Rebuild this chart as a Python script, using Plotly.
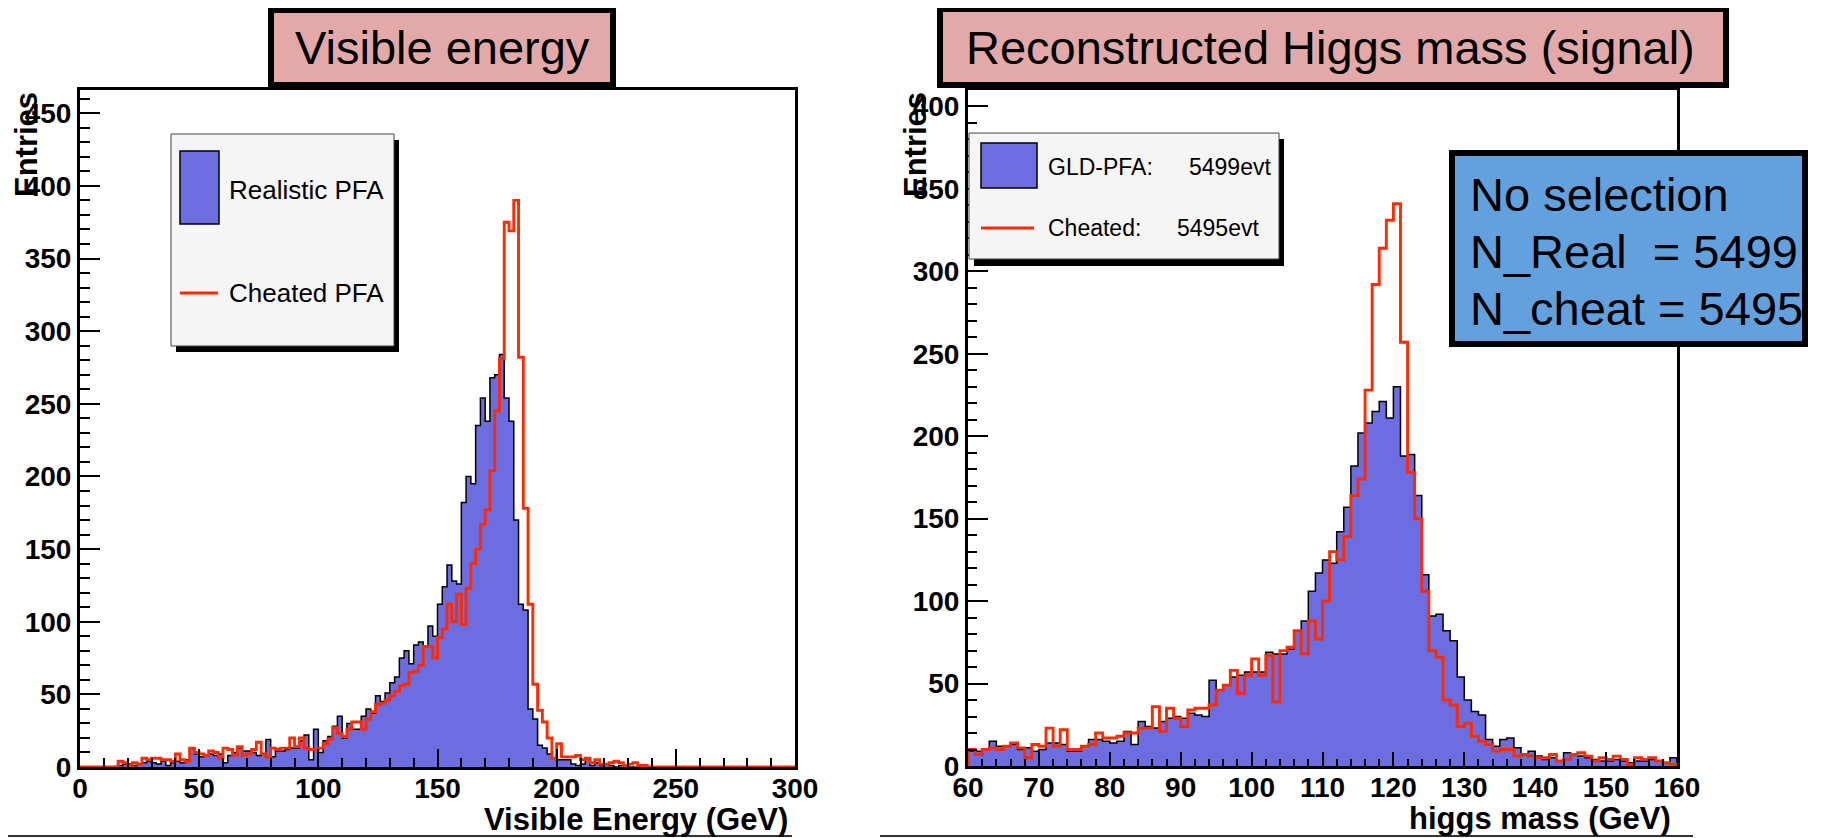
import plotly.graph_objects as go

W, H = 1825, 838
PAGE_OFFSET = 8  # default body margin of the html page

# ---------------- data ----------------
# Left panel: visible energy, 2 GeV bins, 0-300 GeV (lower bin edges)
vis_bin_width = 2
vis_bin_lo = list(range(0, 300, 2))
vis_realistic = [
    0, 0, 0, 0, 0, 0, 0, 0, 1, 2,
    2, 1, 2, 3, 4, 3, 2, 4, 1, 3,
    4, 3, 5, 13, 9, 7, 8, 9, 8, 9,
    3, 8, 10, 13, 11, 11, 10, 8, 9, 19,
    7, 11, 11, 12, 13, 13, 18, 22, 5, 26,
    10, 18, 21, 28, 35, 20, 30, 26, 26, 35,
    40, 37, 49, 45, 51, 58, 62, 75, 80, 71,
    84, 86, 83, 97, 90, 112, 124, 139, 128, 126,
    182, 200, 195, 235, 254, 238, 268, 270, 284, 254,
    238, 170, 112, 108, 40, 33, 15, 13, 9, 6,
    5, 5, 5, 2, 1, 2, 6, 1, 3, 1,
    2, 1, 0, 1, 0, 0, 0, 0, 0, 0,
    0, 0, 0, 0, 0, 0, 0, 0, 0, 0,
    0, 0, 0, 0, 0, 0, 0, 0, 0, 0,
    0, 0, 0, 0, 0, 0, 0, 0, 0, 0,
]
vis_cheated = [
    0, 0, 0, 0, 0, 0, 0, 0, 4, 3,
    1, 3, 2, 6, 5, 6, 6, 5, 5, 4,
    9, 5, 4, 13, 10, 9, 8, 11, 10, 6,
    13, 12, 8, 14, 8, 9, 12, 17, 9, 7,
    13, 12, 13, 13, 20, 14, 20, 13, 12, 12,
    13, 16, 19, 27, 23, 21, 26, 31, 31, 26,
    33, 38, 43, 44, 46, 49, 52, 56, 57, 65,
    66, 70, 83, 83, 75, 89, 95, 112, 100, 119,
    98, 123, 140, 150, 167, 177, 204, 245, 281, 375,
    369, 390, 282, 178, 112, 57, 39, 31, 20, 6,
    16, 7, 7, 7, 8, 5, 6, 3, 5, 2,
    2, 3, 4, 3, 1, 2, 3, 1, 1, 0,
    0, 0, 0, 0, 0, 0, 0, 0, 0, 0,
    0, 0, 0, 0, 0, 0, 0, 0, 0, 0,
    0, 0, 0, 0, 0, 0, 0, 0, 0, 0,
]

# Right panel: reconstructed Higgs mass, 1 GeV bins, 60-160 GeV
mh_bin_width = 1
mh_bin_lo = list(range(60, 160))
mh_gld = [
    9, 9, 10, 15, 12, 12, 13, 10, 11, 9,
    10, 14, 14, 13, 9, 9, 12, 16, 16, 15,
    14, 15, 21, 13, 27, 24, 23, 27, 29, 30,
    29, 32, 31, 30, 52, 46, 49, 54, 55, 57,
    57, 57, 69, 68, 68, 71, 82, 88, 106, 117,
    125, 123, 142, 157, 182, 202, 208, 215, 221, 211,
    230, 188, 189, 164, 116, 91, 92, 82, 76, 54,
    40, 33, 31, 16, 12, 16, 17, 11, 7, 9,
    6, 4, 5, 3, 8, 7, 6, 5, 4, 3,
    3, 4, 3, 2, 3, 3, 4, 3, 2, 5,
]
mh_cheated = [
    10, 7, 10, 11, 10, 12, 14, 11, 5, 13,
    12, 23, 12, 22, 10, 10, 12, 13, 20, 17,
    17, 18, 20, 20, 23, 23, 36, 21, 35, 29,
    24, 34, 35, 35, 37, 46, 49, 58, 44, 55,
    65, 55, 67, 39, 70, 72, 82, 68, 88, 77,
    100, 130, 125, 139, 164, 174, 228, 292, 314, 331,
    341, 257, 178, 150, 106, 70, 66, 40, 37, 24,
    26, 18, 15, 13, 9, 10, 10, 6, 7, 6,
    5, 5, 7, 3, 4, 7, 8, 6, 3, 5,
    4, 6, 4, 1, 5, 4, 5, 3, 2, 1,
]

vis_xrange = [0, 300]
vis_yrange = [0, 466]
mh_xrange = [60, 160]
mh_yrange = [0, 410]

vis_title = "Visible energy"
mh_title = "Reconstructed Higgs mass (signal)"
vis_xtitle = "Visible Energy (GeV)"
mh_xtitle = "higgs mass (GeV)"
y_title = "Entries"
vis_legend = ["Realistic PFA", "Cheated PFA"]
mh_legend = [("GLD-PFA:", "5499evt"), ("Cheated:", "5495evt")]
box_lines = ["No selection", "N_Real\u00a0 = 5499", "N_cheat = 5495"]

# ---------------- styling ----------------
FONT = "Liberation Sans, Arial, sans-serif"
BLUE = "#6b6de0"
RED = "#ff2a00"
PINK = "#e2a9a8"
BOXBLUE = "#62a1dd"


def px(x):
    return (x - PAGE_OFFSET) / W


def py(y):
    return 1 - (y - PAGE_OFFSET) / H


def step_xy(lo, vals, width):
    edges = list(lo) + [lo[-1] + width]
    xs = [edges[0]] + edges + [edges[-1]]
    ys = [0] + list(vals) + [vals[-1], 0]
    return xs, ys


fig = go.Figure()

xs, ys = step_xy(vis_bin_lo, vis_realistic, vis_bin_width)
fig.add_trace(go.Scatter(x=xs, y=ys, mode="lines", line=dict(shape="hv", color="black", width=1.5),
                         fill="tozeroy", fillcolor=BLUE, xaxis="x", yaxis="y", showlegend=False))
xs, ys = step_xy(vis_bin_lo, vis_cheated, vis_bin_width)
fig.add_trace(go.Scatter(x=xs, y=ys, mode="lines", line=dict(shape="hv", color=RED, width=2.9),
                         xaxis="x", yaxis="y", showlegend=False))
xs, ys = step_xy(mh_bin_lo, mh_gld, mh_bin_width)
fig.add_trace(go.Scatter(x=xs, y=ys, mode="lines", line=dict(shape="hv", color="black", width=1.5),
                         fill="tozeroy", fillcolor=BLUE, xaxis="x2", yaxis="y2", showlegend=False))
xs, ys = step_xy(mh_bin_lo, mh_cheated, mh_bin_width)
fig.add_trace(go.Scatter(x=xs, y=ys, mode="lines", line=dict(shape="hv", color=RED, width=2.9),
                         xaxis="x2", yaxis="y2", showlegend=False))

tickfont = dict(family=FONT, size=28, color="black", weight="bold")


def axis_cfg(domain, rng, dtick, ticklen, minor_dtick, minor_len, anchor, standoff=0):
    return dict(domain=domain, range=rng, dtick=dtick, tick0=rng[0], ticks="inside", ticklen=ticklen,
                tickwidth=2, tickcolor="black", showline=True, linewidth=3, linecolor="black",
                mirror=True, showgrid=False, zeroline=False, tickfont=tickfont, anchor=anchor,
                automargin=False, ticklabelstandoff=standoff,
                minor=dict(dtick=minor_dtick, tick0=rng[0], ticks="inside", ticklen=minor_len,
                           tickwidth=1.5, tickcolor="black", showgrid=False))


fig.update_layout(
    width=W, height=H, autosize=False,
    margin=dict(l=0, r=0, t=0, b=0, pad=0, autoexpand=False),
    paper_bgcolor="white", plot_bgcolor="white",
    xaxis=axis_cfg([px(80), px(795)], vis_xrange, 50, 18, 10, 9, "y", -6),
    yaxis=axis_cfg([py(767), py(90)], vis_yrange, 50, 20, 10, 10, "x"),
    xaxis2=axis_cfg([px(968), px(1677)], mh_xrange, 10, 14, 2, 7, "y2", -6),
    yaxis2=axis_cfg([py(766), py(90)], mh_yrange, 50, 20, 10, 9, "x2"),
)

shapes = []
annotations = []


def rect(x0, y0, x1, y1, fill, line_color=None, lw=0):
    shapes.append(dict(type="rect", xref="paper", yref="paper", x0=px(x0), x1=px(x1), y0=py(y1), y1=py(y0),
                       fillcolor=fill, line=dict(color=line_color or fill, width=lw), layer="above"))


def hline(x0, x1, y, color, lw):
    shapes.append(dict(type="line", xref="paper", yref="paper", x0=px(x0), x1=px(x1), y0=py(y), y1=py(y),
                       line=dict(color=color, width=lw), layer="above"))


def text(x, y, s, size, xanchor="left", bold=False, angle=0):
    annotations.append(dict(xref="paper", yref="paper", x=px(x), y=py(y), text=s, showarrow=False,
                            xanchor=xanchor, yanchor="middle", textangle=angle,
                            font=dict(family=FONT, size=size, color="black",
                                      weight="bold" if bold else "normal")))


# title boxes
rect(271, 10, 613, 85, PINK, "black", 6)
text(442, 48, vis_title, 47, "center")
rect(940, 9, 1726, 85, PINK, "black", 6)
text(1330, 48, mh_title, 47, "center")

# left legend
rect(176, 140, 399, 352, "black")
rect(171, 134, 394, 346, "#f5f5f5", "#444444", 1)
rect(180, 151, 219, 224, BLUE, "black", 1.5)
text(227, 190, vis_legend[0], 26)
hline(180, 218, 293, RED, 3)
text(227, 293, vis_legend[1], 26)

# right legend
rect(974, 139, 1284, 266, "black")
rect(969, 133, 1279, 259, "#f5f5f5", "#444444", 1)
rect(981, 143, 1037, 188, BLUE, "black", 1.5)
text(1046, 167, mh_legend[0][0], 23)
text(1187, 167, mh_legend[0][1], 23)
hline(981, 1034, 228, RED, 3)
text(1046, 228, mh_legend[1][0], 23)
text(1175, 228, mh_legend[1][1], 23)

# info box
rect(1452, 153, 1805, 344, BOXBLUE, "black", 6)
text(1468, 194, box_lines[0], 47)
text(1468, 251, box_lines[1], 47)
text(1468, 308, box_lines[2], 47)

# axis titles
text(26, 145, y_title, 31, "center", bold=True, angle=-90)
text(915, 145, y_title, 31, "center", bold=True, angle=-90)
text(790, 819, vis_xtitle, 31, "right", bold=True)
text(1673, 818, mh_xtitle, 31, "right", bold=True)

# bottom slide lines
hline(0, 792, 836, "#333333", 2)
hline(880, 1693, 836, "#333333", 2)

fig.update_layout(shapes=shapes, annotations=annotations)
fig.write_html("out.html")
